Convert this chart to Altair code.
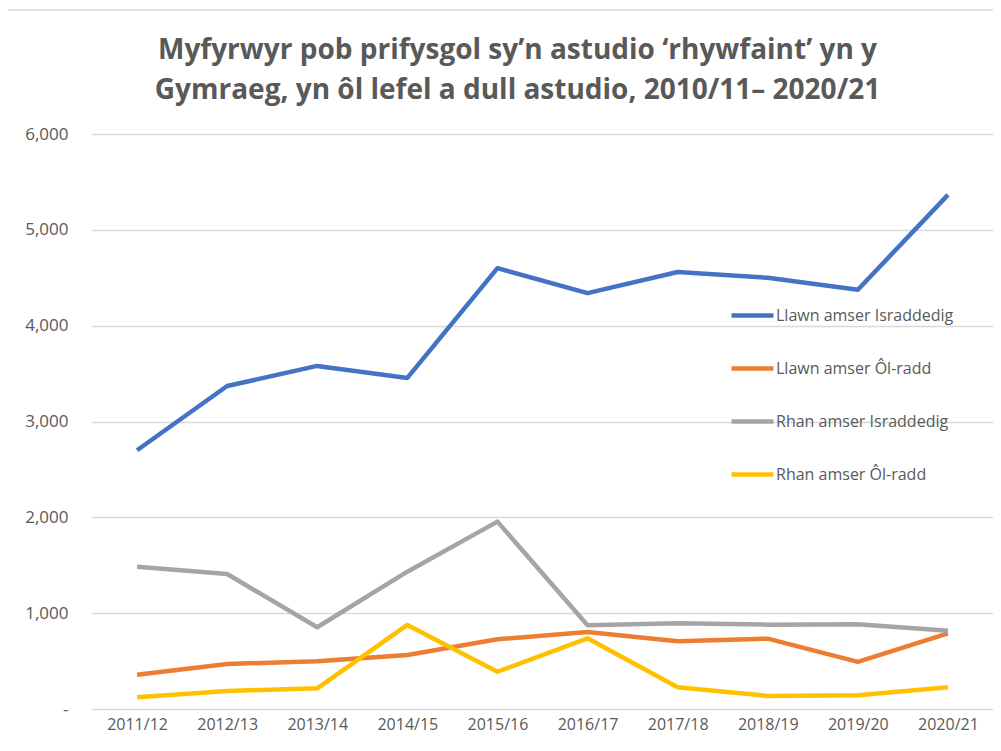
import altair as alt
import pandas as pd

years = ["2011/12", "2012/13", "2013/14", "2014/15", "2015/16",
         "2016/17", "2017/18", "2018/19", "2019/20", "2020/21"]
series_names = ["Llawn amser Israddedig", "Llawn amser Ôl-radd",
                "Rhan amser Israddedig", "Rhan amser Ôl-radd"]
llawn_isr = [2700, 3370, 3580, 3455, 4600, 4340, 4560, 4500, 4375, 5365]
llawn_ol = [358, 470, 498, 564, 727, 804, 707, 734, 491, 790]
rhan_isr = [1485, 1409, 853, 1433, 1955, 874, 894, 880, 884, 817]
rhan_ol = [122, 188, 216, 877, 389, 738, 226, 136, 143, 226]
colors = ["#4472C4", "#ED7D31", "#A5A5A5", "#FFC000"]
title_lines = ["Myfyrwyr pob prifysgol sy\u2019n astudio \u2018rhywfaint\u2019 yn y",
               "Gymraeg, yn ôl lefel a dull astudio, 2010/11\u2013 2020/21"]

rows = []
for name, vals in zip(series_names, [llawn_isr, llawn_ol, rhan_isr, rhan_ol]):
    for i, (yr, v) in enumerate(zip(years, vals)):
        rows.append({"Blwyddyn": yr, "Cyfres": name, "Gwerth": v, "order": i})
df = pd.DataFrame(rows)

FONT = "Open Sans, sans-serif"

lines = alt.Chart(df).mark_line(strokeWidth=4.5, strokeJoin="round").encode(
    x=alt.X("Blwyddyn:N", sort=years,
            scale=alt.Scale(type="point", padding=0.5),
            axis=alt.Axis(title=None, labelAngle=0, labelFontSize=16, labelColor="#595959",
                          labelFont=FONT, domain=False, ticks=False, grid=False,
                          labelPadding=7)),
    y=alt.Y("Gwerth:Q", scale=alt.Scale(domain=[0, 6000]),
            axis=alt.Axis(title=None, values=[0, 1000, 2000, 3000, 4000, 5000, 6000],
                          labelExpr="datum.value == 0 ? '-' : format(datum.value, ',')",
                          labelFontSize=17, labelColor="#595959", labelFont=FONT,
                          domain=False, ticks=False, gridColor="#D9D9D9", gridWidth=1.5,
                          labelPadding=24)),
    color=alt.Color("Cyfres:N", sort=series_names,
                    scale=alt.Scale(domain=series_names, range=colors),
                    legend=alt.Legend(title=None, orient="none", legendX=637, legendY=158,
                                      symbolType="stroke", symbolSize=1764,
                                      symbolStrokeWidth=4.5, labelFontSize=16,
                                      labelColor="#595959", labelFont=FONT,
                                      rowPadding=20, padding=0, labelOffset=0,
                                      labelLimit=300)),
    order="order:Q",
)

border = alt.Chart(pd.DataFrame({"k": [0]})).mark_rect(
    fillOpacity=0, stroke="#D9D9D9", strokeWidth=1.5
).encode(
    x=alt.value(-85), x2=alt.value(930), y=alt.value(-124), y2=alt.value(640)
)

chart = alt.layer(border, lines).properties(
    width=901, height=575,
    title=alt.TitleParams(text=title_lines, fontSize=28, fontWeight="bold",
                          color="#595959", font=FONT, anchor="middle",
                          lineHeight=40, offset=-96, dx=-25),
    autosize=alt.AutoSizeParams(type="none"),
    padding={"left": 84, "top": 126, "right": 0, "bottom": 34},
).configure_view(stroke=None)

chart.save("out.html", embed_options={"renderer": "svg", "actions": False})
